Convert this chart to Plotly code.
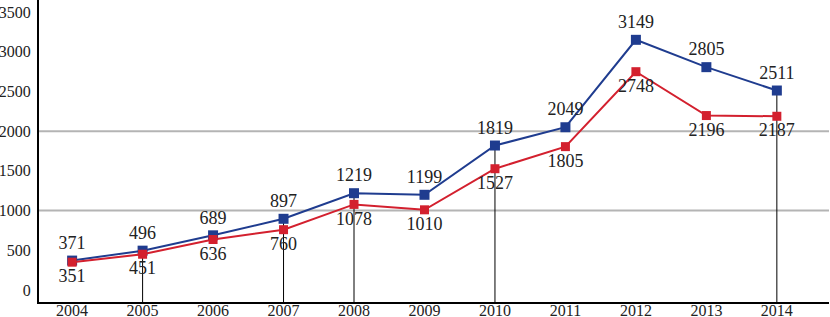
import plotly.graph_objects as go

years = [2004, 2005, 2006, 2007, 2008, 2009, 2010, 2011, 2012, 2013, 2014]
series_blue = [371, 496, 689, 897, 1219, 1199, 1819, 2049, 3149, 2805, 2511]
series_red = [351, 451, 636, 760, 1078, 1010, 1527, 1805, 2748, 2196, 2187]
y_ticks = [0, 500, 1000, 1500, 2000, 2500, 3000, 3500]
grid_values = [1000, 2000]
drop_years = [2005, 2007, 2008, 2010, 2014]

FONT = "Liberation Serif, Times New Roman, serif"
BLUE = "#1f3c8f"
RED = "#d3202e"

fig = go.Figure()
fig.add_trace(go.Scatter(
    x=years, y=series_blue, mode="lines+markers+text",
    line=dict(color=BLUE, width=2),
    marker=dict(symbol="square", size=10, color=BLUE),
    text=[str(v) for v in series_blue], textposition="top center",
    textfont=dict(family=FONT, size=18, color="#222"),
    cliponaxis=False, showlegend=False,
))
fig.add_trace(go.Scatter(
    x=years, y=series_red, mode="lines+markers+text",
    line=dict(color=RED, width=2),
    marker=dict(symbol="square", size=9, color=RED),
    text=[str(v) for v in series_red], textposition="bottom center",
    textfont=dict(family=FONT, size=18, color="#222"),
    cliponaxis=False, showlegend=False,
))

shapes = []
for g in grid_values:
    shapes.append(dict(type="line", xref="paper", x0=0, x1=1, yref="y", y0=g, y1=g,
                       line=dict(color="#b4b4b4", width=2), layer="below"))
for yr in drop_years:
    v = series_blue[years.index(yr)]
    shapes.append(dict(type="line", xref="x", x0=yr, x1=yr, yref="y", y0=-150, y1=v,
                       line=dict(color="black", width=1), layer="below"))

fig.update_layout(
    width=830, height=317,
    margin=dict(l=39, r=1, t=0, b=15, autoexpand=False),
    paper_bgcolor="white", plot_bgcolor="white",
    font=dict(family=FONT, size=16, color="#222"),
    shapes=shapes,
    xaxis=dict(range=[2003.53, 2014.74], tickvals=years, ticktext=[str(y) for y in years],
               showgrid=False, zeroline=False, showline=True, linecolor="black", linewidth=2,
               ticks="", ticklabelstandoff=-7, automargin=False,
               tickfont=dict(family=FONT, size=16)),
    yaxis=dict(range=[-150, 3650], tickvals=y_ticks, ticktext=[str(t) for t in y_ticks],
               showgrid=False, zeroline=False, showline=True, linecolor="black", linewidth=2,
               ticks="", ticklabelstandoff=3, automargin=False,
               tickfont=dict(family=FONT, size=16)),
)

fig.write_html("out.html", config={"displayModeBar": False},
               post_script="document.body.style.margin='0';document.body.style.overflow='hidden';")
